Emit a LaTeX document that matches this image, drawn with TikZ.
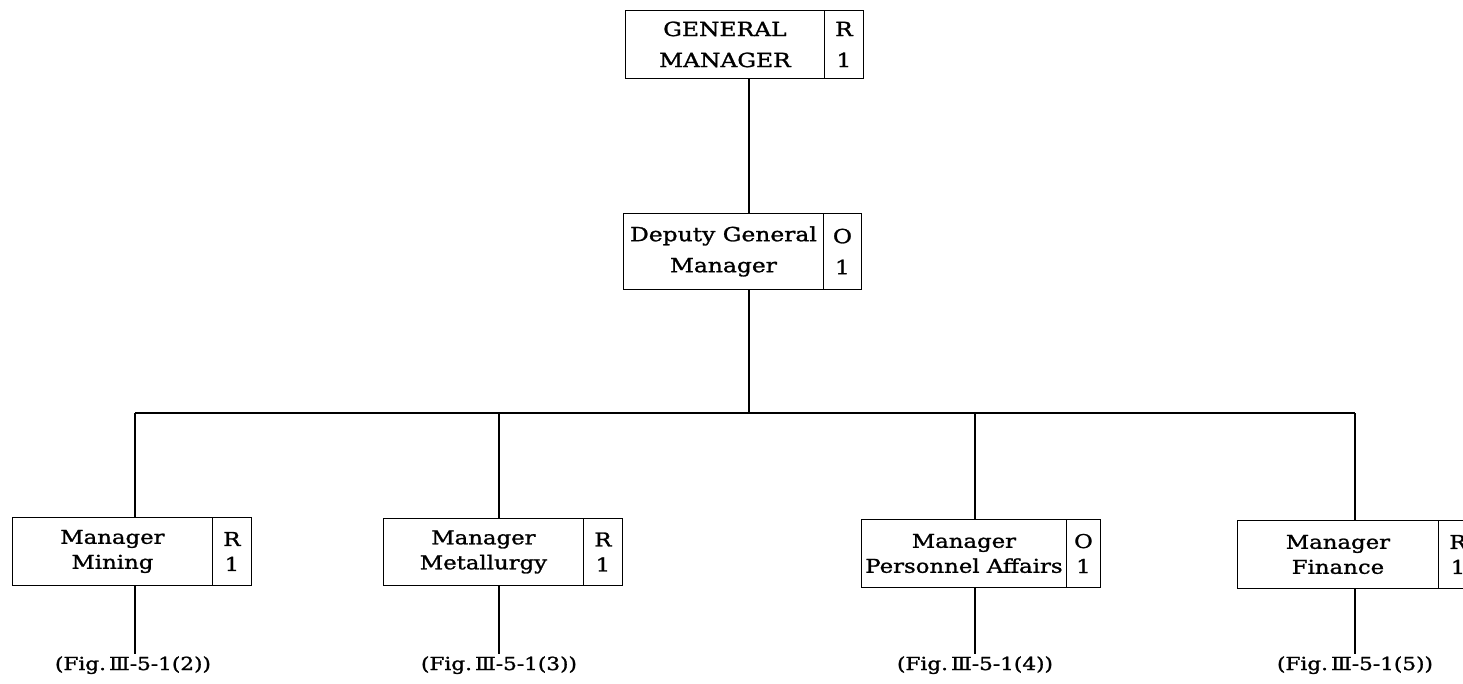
\documentclass[tikz,border=0pt]{standalone}
\usepackage{fontspec}
\setmainfont{DejaVu Serif}[FakeStretch=1.2, FakeBold=1.3]
\begin{document}
\begin{tikzpicture}[x=1pt,y=-1pt,
  box/.style={draw, line width=0.9pt, inner sep=0pt, align=center, anchor=north west},
  mgrfont/.style={font=\fontsize{19}{25}\selectfont},
  topfont/.style={font=\fontsize{19.5}{31}\selectfont},
  link/.style={line width=1.2pt},
  stub/.style={line width=2.4pt},
  figref/.style={inner sep=0pt, font=\fontsize{18}{20}\selectfont}]
\useasboundingbox (0,0) rectangle (1463,683);

% General manager
\node[box, topfont, minimum width=199pt, minimum height=68pt] (gm) at (625,10) {GENERAL\\MANAGER};
\node[box, topfont, minimum width=39pt, minimum height=68pt] (gmc) at (824,10) {R\\1};

% Deputy general manager
\node[box, topfont, minimum width=200pt, minimum height=76pt] (dep) at (623,213) {Deputy General\\Manager};
\node[box, topfont, minimum width=38pt, minimum height=76pt] (depc) at (823,213) {O\\1};

% Managers
\node[box, mgrfont, minimum width=200pt, minimum height=68pt] (mine) at (12,517) {Manager\\Mining};
\node[box, mgrfont, minimum width=39pt, minimum height=68pt] (minec) at (212,517) {R\\1};

\node[box, mgrfont, minimum width=200pt, minimum height=67pt] (metal) at (383,518) {Manager\\Metallurgy};
\node[box, mgrfont, minimum width=39pt, minimum height=67pt] (metalc) at (583,518) {R\\1};

\node[box, mgrfont, minimum width=205pt, minimum height=68pt] (pers) at (861,519) {Manager\\Personnel Affairs};
\node[box, mgrfont, minimum width=34pt, minimum height=68pt] (persc) at (1066,519) {O\\1};

\node[box, mgrfont, minimum width=201pt, minimum height=68pt] (fin) at (1237,520) {Manager\\Finance};
\node[box, mgrfont, minimum width=39pt, minimum height=68pt] (finc) at (1438,520) {R\\1};

% Branch positions
\coordinate (spine) at (749,0);
\coordinate (bus) at (0,413);
\coordinate (xmine) at (135,0);
\coordinate (xmetal) at (499,0);
\coordinate (xpers) at (975,0);
\coordinate (xfin) at (1355,0);

% References to the detail charts
\node[figref, anchor=base] (rmine) at (133,670) {(Fig.\,Ⅲ-5-1(2))};
\node[figref, anchor=base] (rmetal) at (499,670) {(Fig.\,Ⅲ-5-1(3))};
\node[figref, anchor=base] (rpers) at (975,670) {(Fig.\,Ⅲ-5-1(4))};
\node[figref, anchor=base] (rfin) at (1355,670) {(Fig.\,Ⅲ-5-1(5))};

% Connectors
\draw[link] (gm.south -| spine) -- (dep.north -| spine);
\draw[link] (dep.south -| spine) -- (bus -| spine);
\draw[link] (bus -| xmine) -- (bus -| xfin);
\draw[link] (bus -| xmine) -- (mine.north -| xmine);
\draw[link] (bus -| xmetal) -- (metal.north -| xmetal);
\draw[link] (bus -| xpers) -- (pers.north -| xpers);
\draw[link] (bus -| xfin) -- (fin.north -| xfin);

\draw[stub] (mine.south -| xmine) -- ([yshift=2pt]rmine.north -| xmine);
\draw[stub] (metal.south -| xmetal) -- ([yshift=2pt]rmetal.north -| xmetal);
\draw[stub] (pers.south -| xpers) -- ([yshift=2pt]rpers.north -| xpers);
\draw[stub] (fin.south -| xfin) -- ([yshift=2pt]rfin.north -| xfin);
\end{tikzpicture}
\end{document}
